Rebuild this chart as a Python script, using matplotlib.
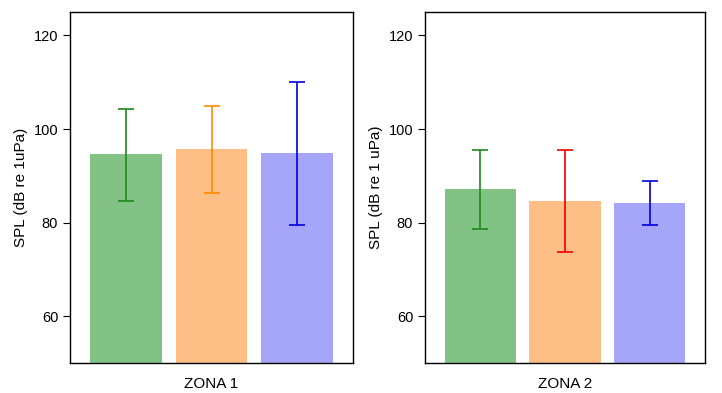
import numpy as np
import matplotlib
matplotlib.use("Agg")
import matplotlib.pyplot as plt

plt.rcParams['font.family'] = ['Liberation Sans', 'DejaVu Sans']

# values
zona1_mean = [94.7, 95.7, 94.9]
zona1_low = [84.7, 86.4, 79.6]
zona1_high = [104.3, 104.9, 110.0]

zona2_mean = [87.1, 84.7, 84.3]
zona2_low = [78.6, 73.7, 79.6]
zona2_high = [95.5, 95.5, 88.8]

bar_colors = ['#82c284', '#fdbf86', '#a5a5f9']
err_colors1 = ['#1f8a1f', '#ff8c00', '#0000dd']
err_colors2 = ['#1f8a1f', '#ee0000', '#0000dd']


def draw_panel(ax, means, lows, highs, ecolors, xlabel, ylabel):
    x = np.arange(len(means))
    ax.bar(x, means, width=0.84, color=bar_colors, zorder=1)
    for i in range(len(means)):
        ax.errorbar(x[i], means[i],
                    yerr=[[means[i] - lows[i]], [highs[i] - means[i]]],
                    fmt='none', ecolor=ecolors[i], elinewidth=1.2,
                    capsize=5.5, capthick=1.2, zorder=2)
    ax.set_xlim(-0.655, 2.655)
    ax.set_ylim(50, 125)
    ax.set_yticks([60, 80, 100, 120])
    ax.set_xticks([])
    ax.set_xlabel(xlabel, fontsize=11, labelpad=10)
    ax.set_ylabel(ylabel, fontsize=11)
    ax.tick_params(axis='y', labelsize=10.5, length=5)
    for s in ax.spines.values():
        s.set_linewidth(1.0)


fig = plt.figure(figsize=(7.22, 3.93), dpi=100)
ax1 = fig.add_axes([0.097, 0.0763, 0.392, 0.893])
ax2 = fig.add_axes([0.5886, 0.0763, 0.388, 0.893])

draw_panel(ax1, zona1_mean, zona1_low, zona1_high, err_colors1,
           "ZONA 1", "SPL (dB re 1uPa)")
draw_panel(ax2, zona2_mean, zona2_low, zona2_high, err_colors2,
           "ZONA 2", "SPL (dB re 1 uPa)")

fig.savefig("out.png", dpi=100)
